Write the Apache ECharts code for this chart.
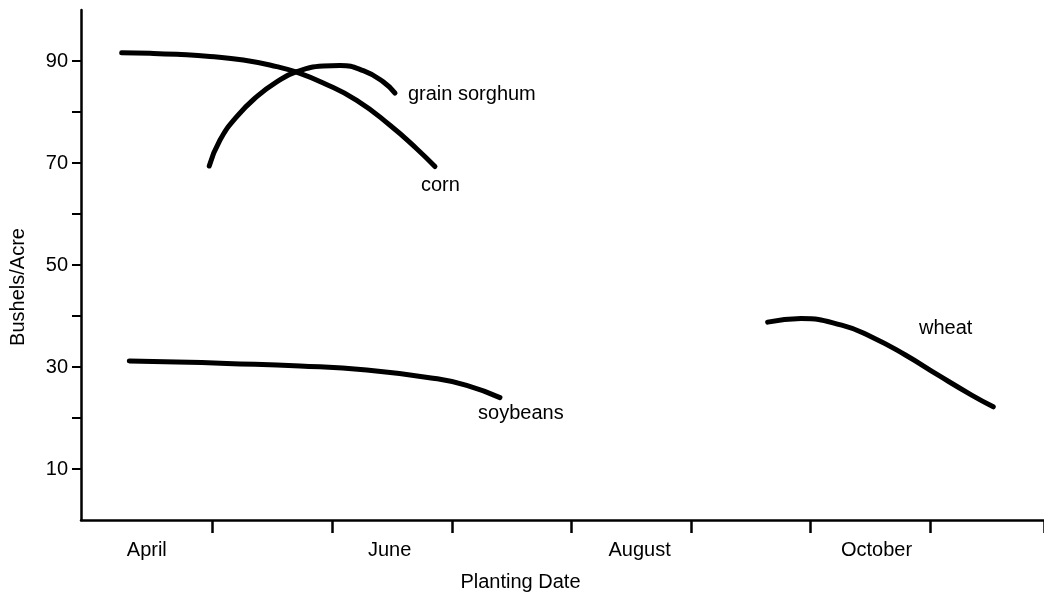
<!DOCTYPE html>
<html>
<head>
<meta charset="utf-8">
<script src="https://cdn.jsdelivr.net/npm/echarts@6/dist/echarts.min.js"></script>
<style>
html,body{margin:0;padding:0;background:#fff;}
#chart{width:1044px;height:595px;}
</style>
</head>
<body>
<div id="chart"></div>
<script>
// x values: months after April 1 (0 = Apr 1, 1 = May 1, ...)
const cornX = [0.240, 0.477, 0.700, 0.978, 1.257, 1.536, 1.703, 1.925, 2.205, 2.483, 2.706, 2.859];
const cornY = [91.6, 91.5, 91.3, 90.9, 90.2, 88.9, 87.8, 85.7, 82.3, 77.4, 72.8, 69.3];
const sorghumX = [0.972, 1.062, 1.202, 1.369, 1.536, 1.703, 1.925, 2.065, 2.260, 2.427, 2.525];
const sorghumY = [69.4, 74.5, 79.1, 83.0, 85.9, 87.9, 89.0, 89.1, 88.1, 85.9, 83.7];
const soyX = [0.304, 0.700, 1.118, 1.731, 2.288, 2.845, 3.124, 3.402];
const soyY = [31.2, 31.0, 30.7, 30.2, 29.4, 27.8, 26.4, 24.0];
const wheatX = [5.640, 5.919, 6.259, 6.509, 6.788, 7.066, 7.345, 7.526];
const wheatY = [38.8, 39.5, 38.2, 35.9, 32.4, 28.4, 24.5, 22.2];

const seriesNames = ['corn', 'grain sorghum', 'soybeans', 'wheat'];
const labelAnchorX = [2.742, 2.633, 3.219, 6.905];
const labelAnchorY = [65.5, 83.5, 20.8, 37.5];

const monthTicks = [1, 2, 3, 4, 5, 6, 7, 7.95];
const monthLabels = ['April', 'June', 'August', 'October'];
const monthLabelAt = [0.45, 2.48, 4.57, 6.55];
const yTicks = [10, 20, 30, 40, 50, 60, 70, 80, 90];
const yLabels = [10, 30, 50, 70, 90];

const FONT = "'Liberation Sans', Arial, sans-serif";
const zip = (xs, ys) => xs.map((x, i) => [x, ys[i]]);

const lineSeries = [
  [cornX, cornY], [sorghumX, sorghumY], [soyX, soyY], [wheatX, wheatY]
].map((d, i) => ({
  name: seriesNames[i],
  type: 'line',
  data: zip(d[0], d[1]),
  smooth: 0.5,
  showSymbol: false,
  silent: true,
  lineStyle: { color: '#000', width: 5, cap: 'round', join: 'round' },
  emphasis: { disabled: true }
}));

const labelSeries = {
  type: 'scatter',
  silent: true,
  symbolSize: 0,
  itemStyle: { opacity: 1, color: '#000' },
  data: labelAnchorX.map((x, i) => ({ value: [x, labelAnchorY[i]], name: seriesNames[i] })),
  label: {
    show: true, position: 'right', distance: 0,
    formatter: p => p.name,
    color: '#000', fontSize: 20, fontFamily: FONT
  },
  emphasis: { disabled: true }
};

const chart = echarts.init(document.getElementById('chart'), null, { renderer: 'canvas' });
chart.setOption({
  backgroundColor: '#fff',
  animation: false,
  grid: { left: 81, right: 0, top: 10, bottom: 75, containLabel: false, outerBoundsMode: 'none' },
  xAxis: {
    type: 'value', min: -0.1, max: 7.95,
    name: 'Planting Date', nameLocation: 'middle', nameGap: 52, nameMoveOverlap: false,
    nameTextStyle: { color: '#000', fontSize: 20, fontFamily: FONT, padding: [0, 84, 0, 0] },
    axisLine: { show: true, onZero: false, lineStyle: { color: '#000', width: 2.5 } },
    axisTick: { show: true, customValues: monthTicks, length: 13, lineStyle: { color: '#000', width: 2.5 } },
    axisLabel: {
      customValues: monthLabelAt,
      formatter: v => monthLabels[monthLabelAt.indexOf(v)] || '',
      color: '#000', fontSize: 20, fontFamily: FONT, margin: 20
    },
    splitLine: { show: false }
  },
  yAxis: {
    type: 'value', min: 0, max: 100,
    name: 'Bushels/Acre', nameLocation: 'middle', nameGap: 53, nameRotate: 90, nameMoveOverlap: false,
    nameTextStyle: { color: '#000', fontSize: 20, fontFamily: FONT, padding: [0, 44, 0, 0] },
    axisLine: { show: true, onZero: false, lineStyle: { color: '#000', width: 2.5 } },
    axisTick: { show: true, customValues: yTicks, length: 9, lineStyle: { color: '#000', width: 2 } },
    axisLabel: { customValues: yLabels, color: '#000', fontSize: 20, fontFamily: FONT, margin: 13 },
    splitLine: { show: false }
  },
  series: [...lineSeries, labelSeries]
});
</script>
</body>
</html>
